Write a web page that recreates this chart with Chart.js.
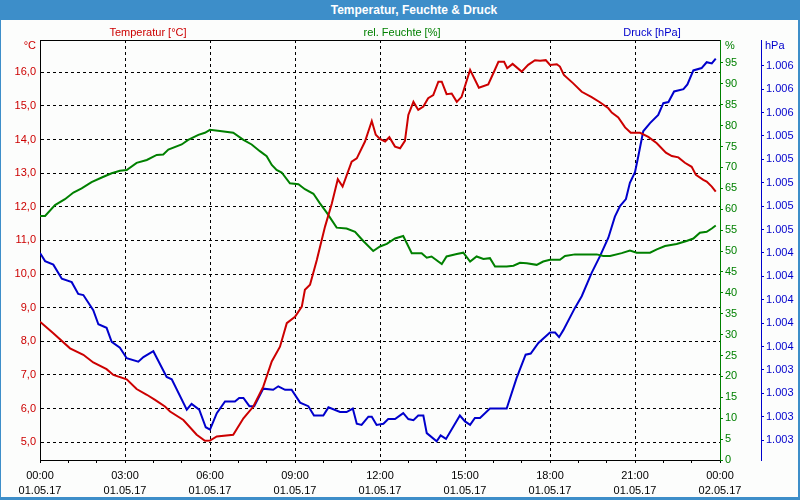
<!DOCTYPE html>
<html>
<head>
<meta charset="utf-8">
<title>Temperatur, Feuchte & Druck</title>
<script src="https://cdn.jsdelivr.net/npm/chart.js@4.4.1/dist/chart.umd.min.js"></script>
<style>
  body { margin: 0; background: #fff; }
  #frame {
    position: relative;
    width: 800px;
    height: 500px;
    background: #fcfdfc;
    font-family: "Liberation Sans", Arial, sans-serif;
    font-size: 11px;
    overflow: hidden;
  }
  #chart { position: absolute; left: 0; top: 0; }
  .titlebar {
    position: absolute; left: 0; top: 0; width: 800px; height: 20px;
    background: #3d8ec9;
  }
  .title {
    position: absolute; left: 264px; top: 0; width: 300px; height: 20px;
    line-height: 20px; text-align: center;
    color: #fff; font-weight: bold; font-size: 12px;
  }
  .edge { position: absolute; background: #3d8ec9; }
  .lbl { position: absolute; height: 14px; line-height: 14px; white-space: nowrap; }
  .center { width: 200px; text-align: center; }
</style>
</head>
<body>
<div id="frame">
  <canvas id="chart" width="800" height="500"></canvas>
  <div class="titlebar"></div>
  <div class="title">Temperatur, Feuchte &amp; Druck</div>
  <div class="edge" style="left:0;top:0;width:1px;height:500px"></div>
  <div class="edge" style="left:798px;top:0;width:2px;height:500px"></div>
  <div class="edge" style="left:0;top:497px;width:800px;height:3px"></div>

  <div class="lbl center" style="left:48px;top:25px;color:#cc0000">Temperatur [°C]</div>
  <div class="lbl center" style="left:302px;top:25px;color:#008000">rel. Feuchte [%]</div>
  <div class="lbl center" style="left:552px;top:25px;color:#0000cc">Druck [hPa]</div>

  <div class="lbl" style="left:0;width:36px;text-align:right;top:38px;color:#cc0000">°C</div>
  <div class="lbl" style="left:725px;top:38px;color:#008000">%</div>
  <div class="lbl" style="left:765px;top:38px;color:#0000cc">hPa</div>
</div>
<script>
// time of day in hours, 01.05.17 00:00 .. 02.05.17 00:00
const tempHours = [0, 0.47, 1.06, 1.53, 1.88, 2.35, 2.59, 3.06, 3.41, 3.77, 4.06, 4.41, 4.59, 5.06, 5.53, 5.82,
  6.0, 6.24, 6.82, 7.18, 7.53, 7.88, 8.18, 8.47, 8.71, 9.0, 9.24, 9.35, 9.53, 9.77, 10.06, 10.3, 10.51, 10.68,
  11.0, 11.18, 11.47, 11.71, 11.85, 12.0, 12.18, 12.33, 12.53, 12.71, 12.88, 13.0, 13.18, 13.35, 13.53, 13.7,
  13.88, 14.06, 14.18, 14.35, 14.53, 14.71, 14.88, 15.18, 15.49, 15.82, 16.0, 16.18, 16.38, 16.49, 16.68,
  17.0, 17.23, 17.47, 17.65, 17.85, 18.0, 18.24, 18.35, 18.49, 18.82, 19.12, 19.47, 19.76, 20.06, 20.18,
  20.41, 20.65, 20.85, 21.18, 21.47, 21.77, 22.09, 22.3, 22.53, 22.76, 23.0, 23.15, 23.41, 23.53, 23.71, 23.85];
const tempValues = [8.58, 8.24, 7.79, 7.6, 7.37, 7.17, 7.0, 6.87, 6.58, 6.41, 6.26, 6.06, 5.91, 5.66, 5.22, 5.04,
  5.05, 5.17, 5.22, 5.71, 6.06, 6.65, 7.4, 7.84, 8.54, 8.73, 9.03, 9.53, 9.68, 10.42, 11.41, 12.1, 12.82, 12.6,
  13.34, 13.44, 13.94, 14.55, 14.14, 14.02, 13.94, 14.07, 13.79, 13.74, 13.96, 14.73, 15.12, 14.88, 14.98, 15.23,
  15.32, 15.72, 15.72, 15.35, 15.37, 15.12, 15.27, 16.07, 15.54, 15.64, 15.97, 16.31, 16.31, 16.12, 16.25,
  16.02, 16.22, 16.36, 16.34, 16.36, 16.22, 16.24, 16.17, 15.92, 15.67, 15.42, 15.26, 15.11, 14.93, 14.8,
  14.66, 14.36, 14.2, 14.2, 14.08, 13.89, 13.61, 13.51, 13.47, 13.31, 13.19, 12.95, 12.8, 12.75, 12.6, 12.45];

const humHours = [0, 0.18, 0.53, 0.88, 1.18, 1.47, 1.82, 2.18, 2.53, 2.82, 3.06, 3.41, 3.77, 4.12, 4.35, 4.53,
  5.0, 5.23, 5.59, 5.82, 6.0, 6.35, 6.82, 7.18, 7.47, 7.76, 8.0, 8.18, 8.35, 8.53, 8.82, 9.12, 9.35, 9.65, 9.88,
  10.12, 10.47, 10.82, 11.12, 11.41, 11.76, 12.0, 12.24, 12.53, 12.82, 13.12, 13.47, 13.65, 13.82, 14.18, 14.35,
  14.71, 14.94, 15.18, 15.41, 15.65, 15.88, 16.06, 16.47, 16.71, 16.94, 17.18, 17.53, 17.76, 18.0, 18.35, 18.53,
  18.88, 19.65, 19.88, 20.12, 20.53, 20.82, 21.06, 21.53, 21.77, 22.06, 22.47, 22.82, 23.06, 23.29, 23.53,
  23.71, 23.85];
const humValues = [58.4, 58.4, 61.0, 62.4, 64.0, 65.0, 66.5, 67.6, 68.6, 69.2, 69.4, 71.1, 71.8, 73.0, 73.1, 74.3,
  75.5, 76.6, 77.8, 78.3, 79.0, 78.7, 78.3, 76.6, 75.5, 73.9, 72.7, 70.6, 69.4, 68.8, 66.2, 66.0, 64.8, 63.7, 61.4,
  59.2, 55.6, 55.4, 54.6, 52.4, 50.0, 51.1, 51.7, 53.0, 53.6, 49.5, 49.5, 48.4, 48.7, 46.9, 48.7,
  49.3, 49.6, 47.5, 48.7, 48.1, 48.3, 46.3, 46.3, 46.5, 47.2, 47.1, 46.7, 47.5, 47.9, 47.9, 48.8,
  49.2, 49.2, 48.8, 48.8, 49.5, 50.1, 49.6, 49.6, 50.4, 51.2, 51.7, 52.4, 53.0, 54.4, 54.6,
  55.4, 56.1];

const presHours = [0, 0.18, 0.47, 0.77, 1.12, 1.35, 1.53, 1.88, 2.06, 2.35, 2.53, 2.82, 3.06, 3.47, 3.65, 4.0,
  4.47, 4.65, 5.18, 5.35, 5.62, 5.85, 6.0, 6.24, 6.53, 6.88, 7.03, 7.18, 7.39, 7.56, 7.88, 8.23, 8.41, 8.65, 8.88,
  9.18, 9.47, 9.67, 10.0, 10.18, 10.59, 10.82, 11.04, 11.18, 11.35, 11.59, 11.71, 11.88, 12.12, 12.29, 12.53,
  12.82, 13.0, 13.18, 13.35, 13.53, 13.65, 14.0, 14.14, 14.33, 14.82, 15.0, 15.18, 15.35, 15.53, 15.88, 16.47,
  16.82, 17.14, 17.32, 17.59, 18.0, 18.18, 18.32, 18.47, 18.88, 19.12, 19.47, 19.76, 20.06, 20.29, 20.47, 20.68,
  20.82, 21.0, 21.12, 21.29, 21.53, 21.82, 22.0, 22.18, 22.38, 22.71, 22.85, 23.06, 23.35, 23.53, 23.71, 23.85];
const presValues = [1004.40, 1004.33, 1004.30, 1004.18, 1004.15, 1004.05, 1004.04, 1003.91, 1003.79, 1003.76,
  1003.64, 1003.59, 1003.50, 1003.47, 1003.51, 1003.56, 1003.34, 1003.32, 1003.06, 1003.11, 1003.06, 1002.91,
  1002.89, 1003.03, 1003.13, 1003.13, 1003.16, 1003.16, 1003.09, 1003.09, 1003.24, 1003.23, 1003.26, 1003.23,
  1003.23, 1003.12, 1003.09, 1003.01, 1003.01, 1003.08, 1003.04, 1003.04, 1003.07, 1002.94, 1002.93, 1003.00,
  1003.00, 1002.93, 1002.94, 1002.98, 1002.98, 1003.03, 1002.98, 1002.97, 1003.01, 1003.01, 1002.86, 1002.79,
  1002.84, 1002.81, 1003.01, 1002.96, 1002.93, 1002.99, 1002.99, 1003.07, 1003.07, 1003.33, 1003.53, 1003.54,
  1003.63, 1003.72, 1003.72, 1003.68, 1003.74, 1003.93, 1004.03, 1004.23, 1004.37, 1004.53, 1004.71, 1004.80,
  1004.86, 1005.00, 1005.09, 1005.23, 1005.44, 1005.51, 1005.58, 1005.68, 1005.69, 1005.78, 1005.80, 1005.84,
  1005.96, 1005.98, 1006.03, 1006.02, 1006.06];

// axis ticks and labels
const tempTicks = [5, 6, 7, 8, 9, 10, 11, 12, 13, 14, 15, 16];
const humTicks = [0, 5, 10, 15, 20, 25, 30, 35, 40, 45, 50, 55, 60, 65, 70, 75, 80, 85, 90, 95];
const presTicks = [1002.8, 1003.0, 1003.2, 1003.4, 1003.6, 1003.8, 1004.0, 1004.2, 1004.4, 1004.6, 1004.8,
  1005.0, 1005.2, 1005.4, 1005.6, 1005.8, 1006.0];
const hourTicks = [0, 1, 2, 3, 4, 5, 6, 7, 8, 9, 10, 11, 12, 13, 14, 15, 16, 17, 18, 19, 20, 21, 22, 23, 24];
const timeLabels = ["00:00", "03:00", "06:00", "09:00", "12:00", "15:00", "18:00", "21:00", "00:00"];
const dateLabels = ["01.05.17", "01.05.17", "01.05.17", "01.05.17", "01.05.17", "01.05.17", "01.05.17",
  "01.05.17", "02.05.17"];

const RED = "#cc0000";
const GREEN = "#008000";
const BLUE = "#0000cc";

Chart.defaults.font.family = '"Liberation Sans", Arial, sans-serif';
Chart.defaults.font.size = 11;

const toPoints = (hours, values) => hours.map((h, i) => ({ x: h, y: values[i] }));
const setTicks = list => scale => { scale.ticks = list.map(v => ({ value: v })); };

// black line along the top of the plot area
const topBorder = {
  id: "topBorder",
  beforeDatasetsDraw(chart) {
    const { ctx, chartArea } = chart;
    ctx.save();
    ctx.strokeStyle = "#000";
    ctx.lineWidth = 1;
    ctx.beginPath();
    ctx.moveTo(chartArea.left, Math.round(chartArea.top) + 0.5);
    ctx.lineTo(chartArea.right, Math.round(chartArea.top) + 0.5);
    ctx.stroke();
    ctx.restore();
  }
};

const canvas = document.getElementById("chart");

new Chart(canvas, {
  type: "line",
  data: {
    datasets: [
      { label: "Temperatur [°C]", data: toPoints(tempHours, tempValues), borderColor: RED, yAxisID: "yTemp" },
      { label: "rel. Feuchte [%]", data: toPoints(humHours, humValues), borderColor: GREEN, yAxisID: "yHum" },
      { label: "Druck [hPa]", data: toPoints(presHours, presValues), borderColor: BLUE, yAxisID: "yPres" }
    ]
  },
  options: {
    responsive: false,
    animation: false,
    layout: { padding: { top: 40, left: 0, right: 0, bottom: 0 } },
    elements: {
      point: { radius: 0 },
      line: { borderWidth: 2, tension: 0, fill: false }
    },
    plugins: {
      legend: { display: false },
      tooltip: { enabled: false }
    },
    scales: {
      x: {
        type: "linear",
        min: 0,
        max: 24,
        afterFit: scale => { scale.height = 40; },
        afterBuildTicks: setTicks(hourTicks),
        ticks: {
          autoSkip: false,
          maxRotation: 0,
          padding: 6,
          color: "#000",
          font: { lineHeight: 1.35 },
          callback: v => v % 3 === 0 ? [timeLabels[v / 3], dateLabels[v / 3]] : ""
        },
        grid: {
          color: c => (c.tick && c.tick.value % 3 === 0 && c.tick.value > 0 && c.tick.value < 24) ? "#000" : "rgba(0,0,0,0)",
          tickColor: "#000",
          tickLength: 3
        },
        border: { color: "#000", dash: [3, 3] }
      },
      yTemp: {
        position: "left",
        min: 4.47,
        max: 16.96,
        afterFit: scale => { scale.width = 40; },
        afterBuildTicks: setTicks(tempTicks),
        ticks: {
          color: RED,
          padding: 4,
          callback: v => v.toFixed(1).replace(".", ",")
        },
        grid: { color: "#000", drawTicks: false },
        border: { color: "#000", dash: [3, 3] }
      },
      yHum: {
        position: "right",
        weight: 0,
        min: 0,
        max: 100.5,
        afterFit: scale => { scale.width = 41; },
        afterBuildTicks: setTicks(humTicks),
        ticks: { color: GREEN, padding: 2 },
        grid: { drawOnChartArea: false, color: GREEN, tickLength: 3 },
        border: { color: GREEN }
      },
      yPres: {
        position: "right",
        weight: 1,
        min: 1002.63,
        max: 1006.22,
        afterFit: scale => { scale.width = 39; },
        afterBuildTicks: setTicks(presTicks),
        ticks: {
          color: BLUE,
          padding: 2,
          callback: v => "1." + String(Math.round(v) - 1000).padStart(3, "0")
        },
        grid: { drawOnChartArea: false, color: BLUE, tickLength: 3 },
        border: { color: BLUE }
      }
    }
  },
  plugins: [topBorder]
});
</script>
</body>
</html>
